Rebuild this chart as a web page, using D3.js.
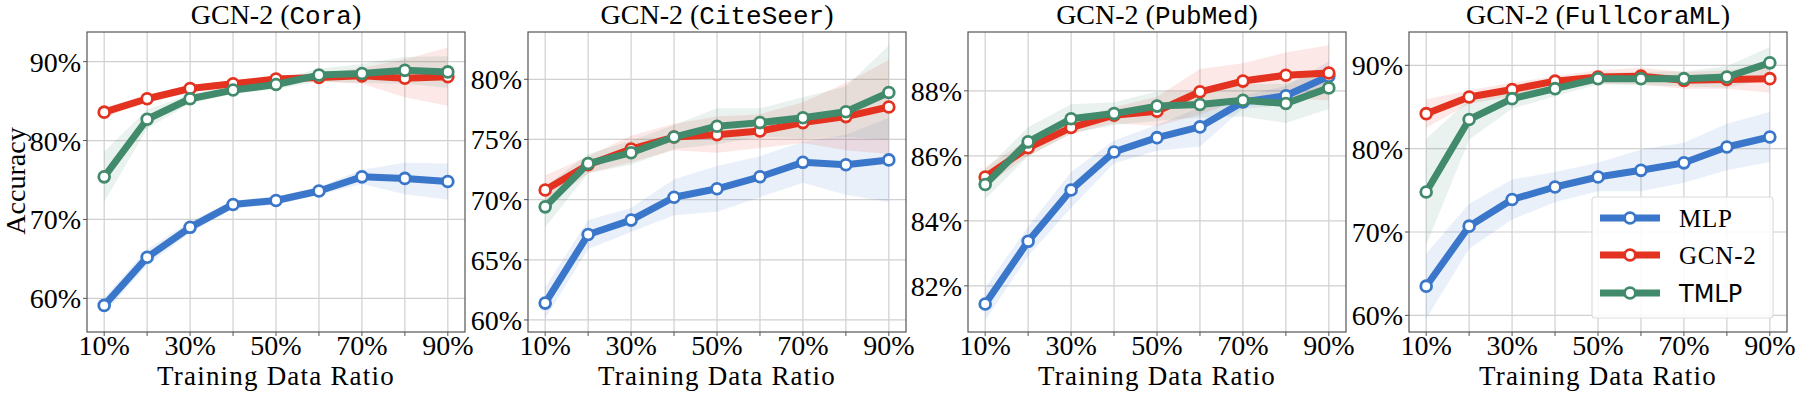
<!DOCTYPE html>
<html>
<head>
<meta charset="utf-8">
<script src="https://cdn.jsdelivr.net/npm/d3@7"></script>
<style>
  body { margin: 0; background: #fff; }
  text { font-family: "Liberation Serif", "DejaVu Serif", serif; fill: #000; }
  .mono { font-family: "Liberation Mono", "DejaVu Sans Mono", monospace; }
</style>
</head>
<body>
<div id="wrapper"></div>
<script>
// training ratios (%)
const ratios = [10, 20, 30, 40, 50, 60, 70, 80, 90]
const xTickLabels = [10, 30, 50, 70, 90]
const seriesNames = ["MLP", "GCN-2", "TMLP"]
const seriesColors = ["#3a76c9", "#e3321f", "#418a6b"]
const datasets = ["Cora", "CiteSeer", "PubMed", "FullCoraML"]

// mean accuracy per dataset, order: MLP, GCN-2, TMLP
const coraMean = [
  [59.1, 65.2, 69.0, 71.9, 72.4, 73.6, 75.4, 75.2, 74.8],
  [83.6, 85.3, 86.6, 87.2, 87.8, 88.0, 88.2, 87.9, 88.1],
  [75.4, 82.7, 85.3, 86.4, 87.1, 88.3, 88.5, 88.9, 88.7]
]
const coraStd = [
  [1.0, 1.0, 0.7, 0.5, 0.5, 0.5, 0.9, 2.0, 2.3],
  [0.6, 0.5, 0.4, 0.4, 0.4, 0.5, 1.0, 2.4, 3.7],
  [3.2, 1.2, 0.6, 0.5, 0.6, 0.8, 1.2, 1.7, 2.0]
]
const citeMean = [
  [61.4, 67.1, 68.3, 70.2, 70.9, 71.9, 73.1, 72.9, 73.3],
  [70.8, 72.9, 74.2, 75.2, 75.4, 75.7, 76.4, 76.9, 77.7],
  [69.4, 73.0, 73.9, 75.2, 76.1, 76.4, 76.8, 77.3, 78.9]
]
const citeStd = [
  [1.3, 1.2, 1.0, 1.5, 1.9, 1.7, 1.7, 2.5, 3.5],
  [1.2, 0.7, 1.1, 1.1, 1.5, 1.4, 1.7, 2.8, 3.9],
  [1.7, 0.8, 1.0, 1.0, 1.5, 1.2, 1.7, 2.1, 3.9]
]
const pubMean = [
  [81.44, 83.37, 84.95, 86.12, 86.56, 86.89, 87.66, 87.85, 88.45],
  [85.35, 86.25, 86.87, 87.25, 87.37, 87.97, 88.30, 88.48, 88.55],
  [85.12, 86.43, 87.14, 87.30, 87.53, 87.58, 87.71, 87.61, 88.09]
]
const pubStd = [
  [0.5, 0.45, 0.55, 0.35, 0.4, 0.6, 0.2, 0.3, 0.45],
  [0.3, 0.25, 0.2, 0.25, 0.45, 0.7, 0.55, 0.7, 0.85],
  [0.45, 0.45, 0.45, 0.35, 0.45, 0.4, 0.5, 0.6, 0.65]
]
const fullMean = [
  [63.5, 70.7, 73.9, 75.4, 76.6, 77.4, 78.3, 80.2, 81.4],
  [84.2, 86.2, 87.1, 88.1, 88.6, 88.7, 88.2, 88.3, 88.4],
  [74.8, 83.5, 86.0, 87.2, 88.4, 88.4, 88.4, 88.6, 90.3]
]
const fullStd = [
  [3.9, 2.7, 2.4, 1.8, 1.7, 2.5, 2.4, 2.8, 3.0],
  [1.7, 0.8, 0.8, 0.6, 0.8, 1.0, 1.0, 1.1, 1.7],
  [6.4, 2.4, 1.2, 0.9, 0.7, 0.8, 0.9, 1.3, 1.9]
]

const yDomains = [[55.73, 93.76], [59.0, 83.93], [80.58, 89.81], [58.0, 94.0]]
const yTicks = [[60, 70, 80, 90], [60, 65, 70, 75, 80], [82, 84, 86, 88], [60, 70, 80, 90]]

const means = [coraMean, citeMean, pubMean, fullMean]
const stds = [coraStd, citeStd, pubStd, fullStd]

// layout
const width = 1799, height = 393
const panelLeft = [87, 528, 968, 1409]
const panelWidth = 378
const axTop = 32, axBottom = 332
const fontSize = 28

const svg = d3.select("#wrapper").append("svg")
  .attr("width", width).attr("height", height)

datasets.forEach((name, p) => {
  const x = d3.scaleLinear().domain([6, 94]).range([panelLeft[p], panelLeft[p] + panelWidth])
  const y = d3.scaleLinear().domain(yDomains[p]).range([axBottom, axTop])
  const g = svg.append("g")

  g.append("clipPath").attr("id", "clip" + p)
    .append("rect").attr("x", x.range()[0]).attr("y", axTop)
    .attr("width", panelWidth).attr("height", axBottom - axTop)

  // grid
  g.selectAll(".gx").data(ratios).join("line")
    .attr("x1", d => x(d)).attr("x2", d => x(d))
    .attr("y1", axTop).attr("y2", axBottom)
    .attr("stroke", "#d0d0d0").attr("stroke-width", 1.2)
  g.selectAll(".gy").data(yTicks[p]).join("line")
    .attr("x1", x.range()[0]).attr("x2", x.range()[1])
    .attr("y1", d => y(d)).attr("y2", d => y(d))
    .attr("stroke", "#d0d0d0").attr("stroke-width", 1.2)

  const plot = g.append("g").attr("clip-path", `url(#clip${p})`)

  const area = d3.area()
    .x((d, i) => x(ratios[i]))
    .y0(d => y(d[0] - d[1]))
    .y1(d => y(d[0] + d[1]))
  const line = d3.line().x((d, i) => x(ratios[i])).y(d => y(d))

  // bands first
  means[p].forEach((m, s) => {
    plot.append("path")
      .datum(m.map((v, i) => [v, stds[p][s][i]]))
      .attr("d", area)
      .attr("fill", seriesColors[s]).attr("fill-opacity", 0.11)
  })
  means[p].forEach((m, s) => {
    plot.append("path").datum(m).attr("d", line)
      .attr("fill", "none").attr("stroke", seriesColors[s])
      .attr("stroke-width", 7).attr("stroke-linejoin", "round")
    plot.selectAll(null).data(m).join("circle")
      .attr("cx", (d, i) => x(ratios[i])).attr("cy", d => y(d))
      .attr("r", 5.4).attr("fill", "#fff")
      .attr("stroke", seriesColors[s]).attr("stroke-width", 2.8)
  })

  // frame
  g.append("rect").attr("x", x.range()[0]).attr("y", axTop)
    .attr("width", panelWidth).attr("height", axBottom - axTop)
    .attr("fill", "none").attr("stroke", "#555").attr("stroke-width", 1.2)

  // x ticks
  g.selectAll(".tx").data(ratios).join("line")
    .attr("x1", d => x(d)).attr("x2", d => x(d))
    .attr("y1", axBottom).attr("y2", axBottom + 4)
    .attr("stroke", "#555")
  g.selectAll(".lx").data(xTickLabels).join("text")
    .attr("x", d => x(d)).attr("y", 355)
    .attr("text-anchor", "middle").style("font-size", fontSize + "px")
    .text(d => d + "%")

  // y ticks
  g.selectAll(".ty").data(yTicks[p]).join("line")
    .attr("x1", x.range()[0] - 4).attr("x2", x.range()[0])
    .attr("y1", d => y(d)).attr("y2", d => y(d))
    .attr("stroke", "#555")
  g.selectAll(".ly").data(yTicks[p]).join("text")
    .attr("x", x.range()[0] - 6).attr("y", d => y(d) + 10)
    .attr("text-anchor", "end").style("font-size", fontSize + "px")
    .text(d => d + "%")

  // title
  const cx = (x.range()[0] + x.range()[1]) / 2
  const title = g.append("text").attr("x", cx).attr("y", 24)
    .attr("text-anchor", "middle").style("font-size", fontSize + "px")
  title.append("tspan").text("GCN-2 (")
  title.append("tspan").attr("class", "mono").style("font-size", "26px").text(name)
  title.append("tspan").text(")")

  g.append("text").attr("x", cx).attr("y", 385)
    .attr("text-anchor", "middle").style("font-size", "27px")
    .style("letter-spacing", "1.2px")
    .text("Training Data Ratio")

  if (p === 0) {
    g.append("text")
      .attr("transform", "translate(25,181) rotate(-90)")
      .attr("text-anchor", "middle").style("font-size", fontSize + "px")
      .text("Accuracy")
  }
})

// legend on last panel
const legend = svg.append("g")
legend.append("rect")
  .attr("x", 1592).attr("y", 197).attr("width", 181).attr("height", 121)
  .attr("rx", 3).attr("fill", "#fff").attr("fill-opacity", 0.85)
  .attr("stroke", "#dcdcdc").attr("stroke-width", 1.2)
const legendY = [218, 255, 293]
seriesNames.forEach((name, s) => {
  legend.append("line")
    .attr("x1", 1600).attr("x2", 1660)
    .attr("y1", legendY[s]).attr("y2", legendY[s])
    .attr("stroke", seriesColors[s]).attr("stroke-width", 7)
  legend.append("circle").attr("cx", 1630).attr("cy", legendY[s])
    .attr("r", 5.4).attr("fill", "#fff")
    .attr("stroke", seriesColors[s]).attr("stroke-width", 2.8)
  legend.append("text").attr("x", 1679).attr("y", legendY[s] + 8.5)
    .style("font-size", name === "TMLP" ? "24px" : "25px")
    .style("letter-spacing", name === "TMLP" ? null : "0.8px")
    .style("font-family", name === "TMLP" ? "'DejaVu Sans', sans-serif" : null)
    .text(name)
})
</script>
</body>
</html>
